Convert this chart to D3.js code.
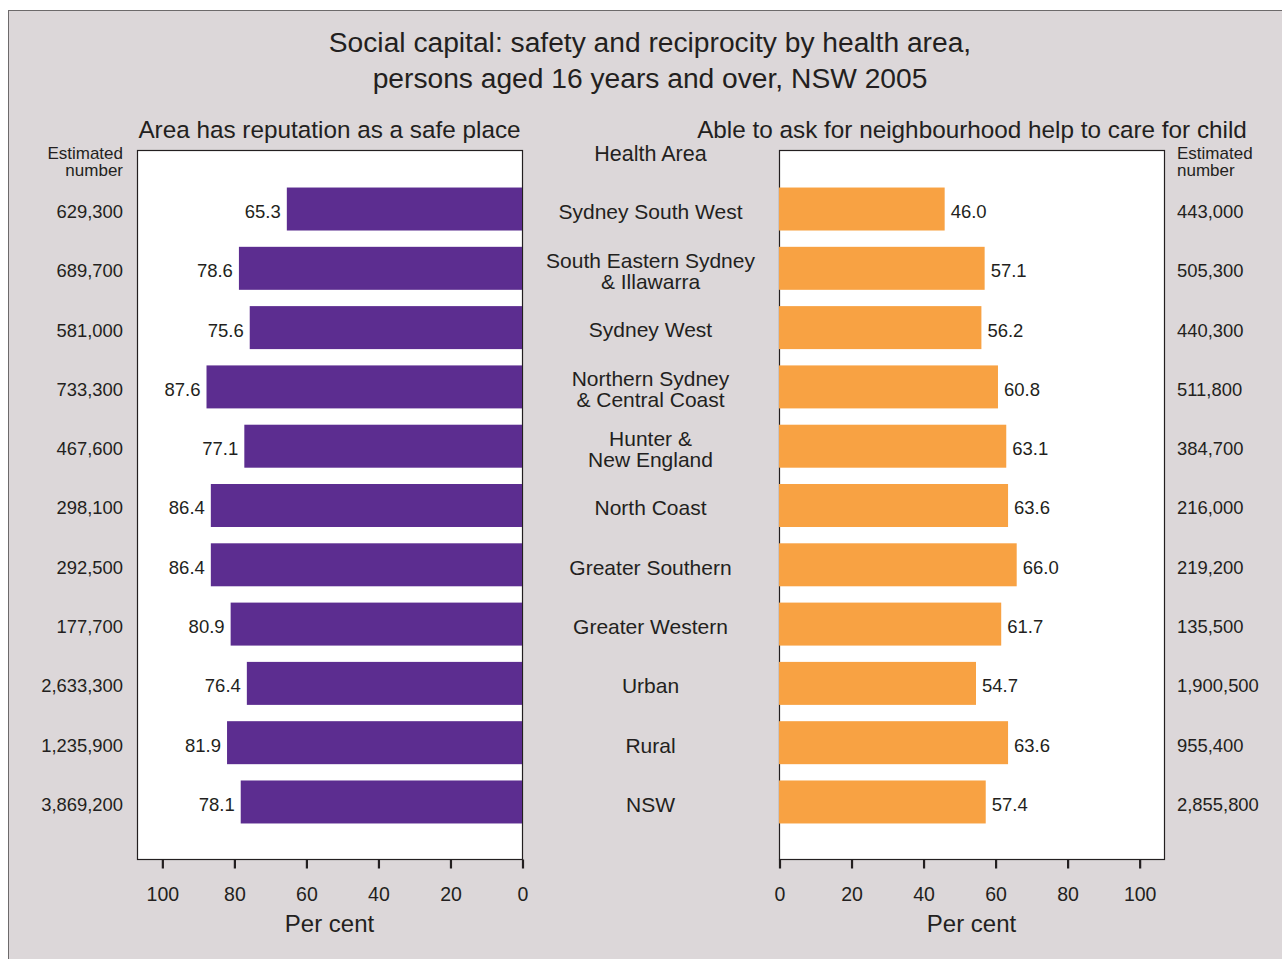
<!DOCTYPE html>
<html>
<head>
<meta charset="utf-8">
<script src="https://cdn.jsdelivr.net/npm/d3@7"></script>
<style>
  html, body { margin: 0; padding: 0; background: #ffffff; }
  svg { display: block; font-family: "Liberation Sans", Arial, Helvetica, sans-serif; }
  text { fill: #231f20; }
</style>
</head>
<body>
<svg id="chart" width="1282" height="959"></svg>
<script>
// Health areas (multi-line labels split with "\n")
const areas = [
  "Sydney South West",
  "South Eastern Sydney\n& Illawarra",
  "Sydney West",
  "Northern Sydney\n& Central Coast",
  "Hunter &\nNew England",
  "North Coast",
  "Greater Southern",
  "Greater Western",
  "Urban",
  "Rural",
  "NSW"
];

// Area has reputation as a safe place (per cent, estimated number)
const safePct = [65.3, 78.6, 75.6, 87.6, 77.1, 86.4, 86.4, 80.9, 76.4, 81.9, 78.1];
const safeNum = ["629,300", "689,700", "581,000", "733,300", "467,600", "298,100",
                 "292,500", "177,700", "2,633,300", "1,235,900", "3,869,200"];

// Able to ask for neighbourhood help to care for child (per cent, estimated number)
const helpPct = [46.0, 57.1, 56.2, 60.8, 63.1, 63.6, 66.0, 61.7, 54.7, 63.6, 57.4];
const helpNum = ["443,000", "505,300", "440,300", "511,800", "384,700", "216,000",
                 "219,200", "135,500", "1,900,500", "955,400", "2,855,800"];

const xTicks = [0, 20, 40, 60, 80, 100];

const svg = d3.select("#chart");
const ink = "#231f20";
const purple = "#5c2d90";
const orange = "#f8a243";
const textShift = 3.5; // labels sit slightly below the bar centre line

// Grey panel with frame
svg.append("rect")
  .attr("x", 8.5).attr("y", 10.5)
  .attr("width", 1300).attr("height", 1000)
  .attr("fill", "#dcd7d9")
  .attr("stroke", "#6d6a6b").attr("stroke-width", 1);

// Title
svg.append("text").attr("x", 650).attr("y", 52)
  .attr("text-anchor", "middle").attr("font-size", 28.2)
  .text("Social capital: safety and reciprocity by health area,");
svg.append("text").attr("x", 650).attr("y", 88)
  .attr("text-anchor", "middle").attr("font-size", 28.2)
  .text("persons aged 16 years and over, NSW 2005");

// Plot geometry
const plotTop = 150, plotBottom = 859;
const leftPanel = { x0: 137, x1: 522 };
const rightPanel = { x0: 779, x1: 1164 };
const maxVal = 106.9;

const y = d3.scaleBand()
  .domain(areas)
  .range([plotTop, plotBottom])
  .paddingInner(0.275)
  .paddingOuter(0.616);

const xL = d3.scaleLinear().domain([0, maxVal]).range([leftPanel.x1, leftPanel.x0]);
const xR = d3.scaleLinear().domain([0, maxVal]).range([rightPanel.x0, rightPanel.x1]);

function panel(p, x, pct, color, side) {
  const g = svg.append("g");
  g.append("rect")
    .attr("x", p.x0 + 0.5).attr("y", plotTop + 0.5)
    .attr("width", p.x1 - p.x0).attr("height", plotBottom - plotTop)
    .attr("fill", "#ffffff")
    .attr("stroke", ink).attr("stroke-width", 1.2);

  g.selectAll("rect.bar")
    .data(areas)
    .join("rect")
    .attr("class", "bar")
    .attr("x", (d, i) => Math.min(x(0), x(pct[i])))
    .attr("y", d => y(d) + 1)
    .attr("width", (d, i) => Math.abs(x(pct[i]) - x(0)))
    .attr("height", y.bandwidth())
    .attr("fill", color);

  g.selectAll("text.val")
    .data(areas)
    .join("text")
    .attr("class", "val")
    .attr("x", (d, i) => x(pct[i]) + (side === "left" ? -6 : 6))
    .attr("y", d => y(d) + y.bandwidth() / 2 + textShift)
    .attr("dy", "0.35em")
    .attr("text-anchor", side === "left" ? "end" : "start")
    .attr("font-size", 18.5)
    .text((d, i) => pct[i].toFixed(1));

  // Bottom axis
  const axis = d3.axisBottom(x).tickValues(xTicks).tickSize(9).tickPadding(19)
    .tickFormat(d3.format("d"));
  const ag = g.append("g").attr("transform", `translate(0.5,${plotBottom + 0.5})`).call(axis);
  ag.select(".domain").remove();
  ag.selectAll(".tick line").attr("stroke", ink).attr("stroke-width", 2.2);
  ag.selectAll(".tick text").attr("font-size", 19.5).attr("fill", ink)
    .attr("font-family", "Liberation Sans, Arial, sans-serif");

  g.append("text")
    .attr("x", (p.x0 + p.x1) / 2).attr("y", 932)
    .attr("text-anchor", "middle").attr("font-size", 24)
    .text("Per cent");
}

panel(leftPanel, xL, safePct, purple, "left");
panel(rightPanel, xR, helpPct, orange, "right");

// Panel headings
svg.append("text").attr("x", (leftPanel.x0 + leftPanel.x1) / 2).attr("y", 137.5)
  .attr("text-anchor", "middle").attr("font-size", 24.3)
  .text("Area has reputation as a safe place");
svg.append("text").attr("x", (rightPanel.x0 + rightPanel.x1) / 2 + 0.5).attr("y", 137.5)
  .attr("text-anchor", "middle").attr("font-size", 24.3)
  .text("Able to ask for neighbourhood help to care for child");

// Estimated number headers
function estHeader(xPos, anchor) {
  const t = svg.append("text").attr("text-anchor", anchor).attr("font-size", 17)
    .attr("dominant-baseline", "alphabetic");
  t.append("tspan").attr("x", xPos).attr("y", 159).text("Estimated");
  t.append("tspan").attr("x", xPos).attr("y", 176).text("number");
}
estHeader(123, "end");
estHeader(1177, "start");

// Health Area header
const midX = (leftPanel.x1 + rightPanel.x0) / 2;
svg.append("text").attr("x", midX).attr("y", 160.5)
  .attr("text-anchor", "middle").attr("font-size", 21.5)
  .text("Health Area");

// Category labels
svg.selectAll("text.cat")
  .data(areas)
  .join("text")
  .attr("class", "cat")
  .attr("text-anchor", "middle")
  .attr("font-size", 21)
  .each(function (d) {
    const lines = d.split("\n");
    const cy = y(d) + y.bandwidth() / 2 + textShift;
    const lh = 21;
    lines.forEach((ln, k) => {
      d3.select(this).append("tspan")
        .attr("x", midX)
        .attr("y", cy + (k - (lines.length - 1) / 2) * lh)
        .attr("dy", "0.35em")
        .text(ln);
    });
  });

// Estimated numbers beside each panel
svg.selectAll("text.numL")
  .data(areas)
  .join("text")
  .attr("class", "numL")
  .attr("x", 123)
  .attr("y", d => y(d) + y.bandwidth() / 2 + textShift)
  .attr("dy", "0.35em")
  .attr("text-anchor", "end")
  .attr("font-size", 18.4)
  .text((d, i) => safeNum[i]);

svg.selectAll("text.numR")
  .data(areas)
  .join("text")
  .attr("class", "numR")
  .attr("x", 1177)
  .attr("y", d => y(d) + y.bandwidth() / 2 + textShift)
  .attr("dy", "0.35em")
  .attr("text-anchor", "start")
  .attr("font-size", 18.4)
  .text((d, i) => helpNum[i]);
</script>
</body>
</html>
